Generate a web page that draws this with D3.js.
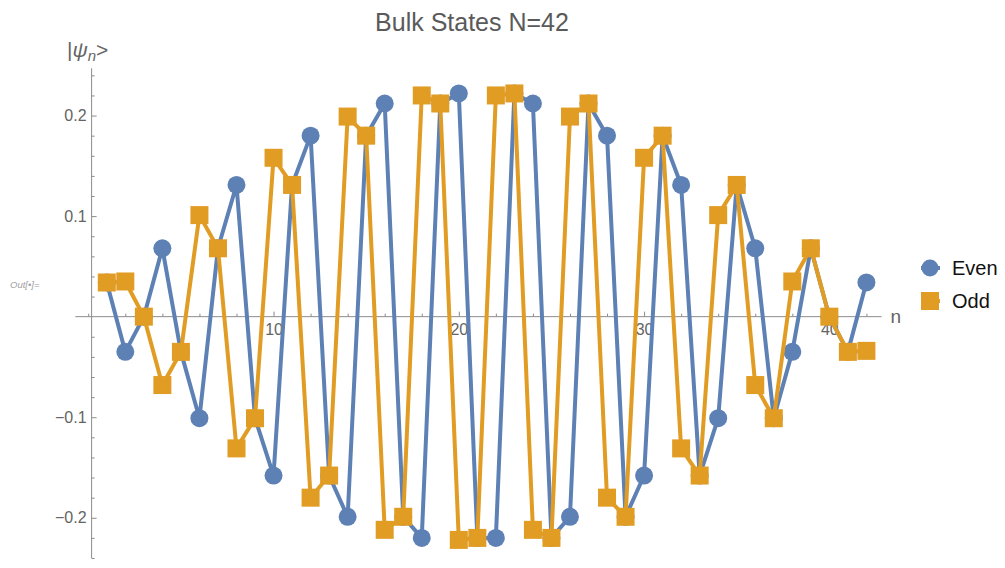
<!DOCTYPE html>
<html>
<head>
<meta charset="utf-8">
<script src="https://cdn.jsdelivr.net/npm/d3@7"></script>
<style>
  body { margin: 0; background: #fff; }
  svg { display: block; font-family: "Liberation Sans", Arial, sans-serif; }
  .axis path { display: none; }
  .axis line { stroke: #8c8c8c; }
  .axis text { fill: #646464; font-size: 16px; }
</style>
</head>
<body>
<div id="chart"></div>
<script>
// site index n
const nValues = [1, 2, 3, 4, 5, 6, 7, 8, 9, 10, 11, 12, 13, 14, 15, 16, 17, 18, 19, 20, 21,
  22, 23, 24, 25, 26, 27, 28, 29, 30, 31, 32, 33, 34, 35, 36, 37, 38, 39, 40, 41, 42];

// amplitudes
const evenValues = [0.034, -0.035, 0.000, 0.068, -0.035, -0.101, 0.068, 0.131, -0.101, -0.158,
  0.131, 0.180, -0.158, -0.199, 0.180, 0.212, -0.199, -0.220, 0.212, 0.222, -0.220,
  -0.220, 0.222, 0.212, -0.220, -0.199, 0.212, 0.180, -0.199, -0.158, 0.180,
  0.131, -0.158, -0.101, 0.131, 0.068, -0.101, -0.035, 0.068, 0.000, -0.035, 0.034];

const oddValues = [0.034, 0.035, 0.000, -0.068, -0.035, 0.101, 0.068, -0.131, -0.101, 0.158,
  0.131, -0.180, -0.158, 0.199, 0.180, -0.212, -0.199, 0.220, 0.212, -0.222, -0.220,
  0.220, 0.222, -0.212, -0.220, 0.199, 0.212, -0.180, -0.199, 0.158, 0.180,
  -0.131, -0.158, 0.101, 0.131, -0.068, -0.101, 0.035, 0.068, 0.000, -0.035, -0.034];

const seriesNames = ["Even", "Odd"];
const xMajorTicks = [10, 20, 30, 40];
const yMajorTicks = [-0.2, -0.1, 0.1, 0.2];

const colors = { Even: "#5e81b5", Odd: "#e19c24" };

const width = 1005, height = 568;
const margin = { top: 68.3, left: 91.6 };
const plotW = 790, plotH = 489.7;

const xScale = d3.scaleLinear().domain([0.18, 42.82]).range([margin.left, margin.left + plotW]);
const yScale = d3.scaleLinear().domain([-0.240, 0.247]).range([margin.top + plotH, margin.top]);

const svg = d3.select("#chart").append("svg")
  .attr("width", width)
  .attr("height", height);

// title
svg.append("text")
  .attr("x", 472)
  .attr("y", 31)
  .attr("text-anchor", "middle")
  .attr("font-size", 25)
  .attr("fill", "#5a5a5a")
  .text("Bulk States N=42");

// Out[.]= cell label
svg.append("text")
  .attr("x", 10)
  .attr("y", 288)
  .attr("font-size", 9.5)
  .attr("font-style", "italic")
  .attr("fill", "#a0a0a0")
  .text("Out[\u2022]=");

// axes lines
const x0 = yScale(0);
svg.append("line")
  .attr("x1", xScale(-0.7)).attr("x2", xScale(42.82))
  .attr("y1", x0).attr("y2", x0)
  .attr("stroke", "#8c8c8c");
svg.append("line")
  .attr("x1", xScale(0.18)).attr("x2", xScale(0.18))
  .attr("y1", yScale(0.247)).attr("y2", yScale(-0.240))
  .attr("stroke", "#8c8c8c");

// minor ticks
const xMinor = d3.range(0, 43, 2).filter(v => !xMajorTicks.includes(v));
svg.append("g")
  .attr("class", "axis")
  .attr("transform", `translate(0,${x0})`)
  .call(d3.axisBottom(xScale).tickValues(xMinor).tickSize(-3).tickFormat(""));

const yMinor = d3.range(-24, 25, 2).map(v => v / 100).filter(v => Math.abs(v * 10 - Math.round(v * 10)) > 1e-6);
svg.append("g")
  .attr("class", "axis")
  .attr("transform", `translate(${xScale(0.18)},0)`)
  .call(d3.axisLeft(yScale).tickValues(yMinor).tickSize(-3).tickFormat(""));

// major ticks with labels
svg.append("g")
  .attr("class", "axis")
  .attr("transform", `translate(0,${x0})`)
  .call(d3.axisBottom(xScale).tickValues(xMajorTicks).tickSize(-5).tickPadding(7).tickFormat(d3.format("d")));

svg.append("g")
  .attr("class", "axis")
  .attr("transform", `translate(${xScale(0.18)},0)`)
  .call(d3.axisLeft(yScale).tickValues(yMajorTicks).tickSize(-5).tickPadding(5).tickFormat(d3.format(".1f")));

// axis labels
svg.append("text")
  .attr("x", xScale(42.82) + 9)
  .attr("y", x0 + 6)
  .attr("font-size", 19)
  .attr("fill", "#646464")
  .text("n");

const yLab = svg.append("text")
  .attr("x", 67)
  .attr("y", 57)
  .attr("font-size", 21)
  .attr("fill", "#646464");
yLab.append("tspan").text("|");
yLab.append("tspan").attr("font-style", "italic").text("\u03c8");
yLab.append("tspan").attr("font-style", "italic").attr("font-size", 15).attr("dy", 4).text("n");
yLab.append("tspan").attr("dy", -4).text(">");

// series
const series = [
  { name: "Even", values: evenValues },
  { name: "Odd", values: oddValues }
];

const line = d3.line()
  .x((d, i) => xScale(nValues[i]))
  .y(d => yScale(d));

const markSize = 18;

series.forEach(s => {
  const g = svg.append("g");
  g.append("path")
    .datum(s.values)
    .attr("fill", "none")
    .attr("stroke", colors[s.name])
    .attr("stroke-width", 4)
    .attr("stroke-linejoin", "round")
    .attr("d", line);

  if (s.name === "Even") {
    g.selectAll("circle")
      .data(s.values)
      .join("circle")
      .attr("cx", (d, i) => xScale(nValues[i]))
      .attr("cy", d => yScale(d))
      .attr("r", markSize / 2)
      .attr("fill", colors[s.name]);
  } else {
    g.selectAll("rect")
      .data(s.values)
      .join("rect")
      .attr("x", (d, i) => xScale(nValues[i]) - markSize / 2)
      .attr("y", d => yScale(d) - markSize / 2)
      .attr("width", markSize)
      .attr("height", markSize)
      .attr("fill", colors[s.name]);
  }
});

// legend
const legend = svg.append("g").attr("transform", "translate(930,268)");
seriesNames.forEach((name, i) => {
  const row = legend.append("g").attr("transform", `translate(0,${i * 33})`);
  row.append("line")
    .attr("x1", -9).attr("x2", 10)
    .attr("stroke", colors[name])
    .attr("stroke-width", 4);
  if (name === "Even") {
    row.append("circle").attr("r", 8.5).attr("fill", colors[name]);
  } else {
    row.append("rect")
      .attr("x", -9).attr("y", -9)
      .attr("width", 18).attr("height", 18)
      .attr("fill", colors[name]);
  }
  row.append("text")
    .attr("x", 22)
    .attr("y", 0)
    .attr("dy", "0.35em")
    .attr("font-size", 20)
    .attr("fill", "#111")
    .text(name);
});
</script>
</body>
</html>
